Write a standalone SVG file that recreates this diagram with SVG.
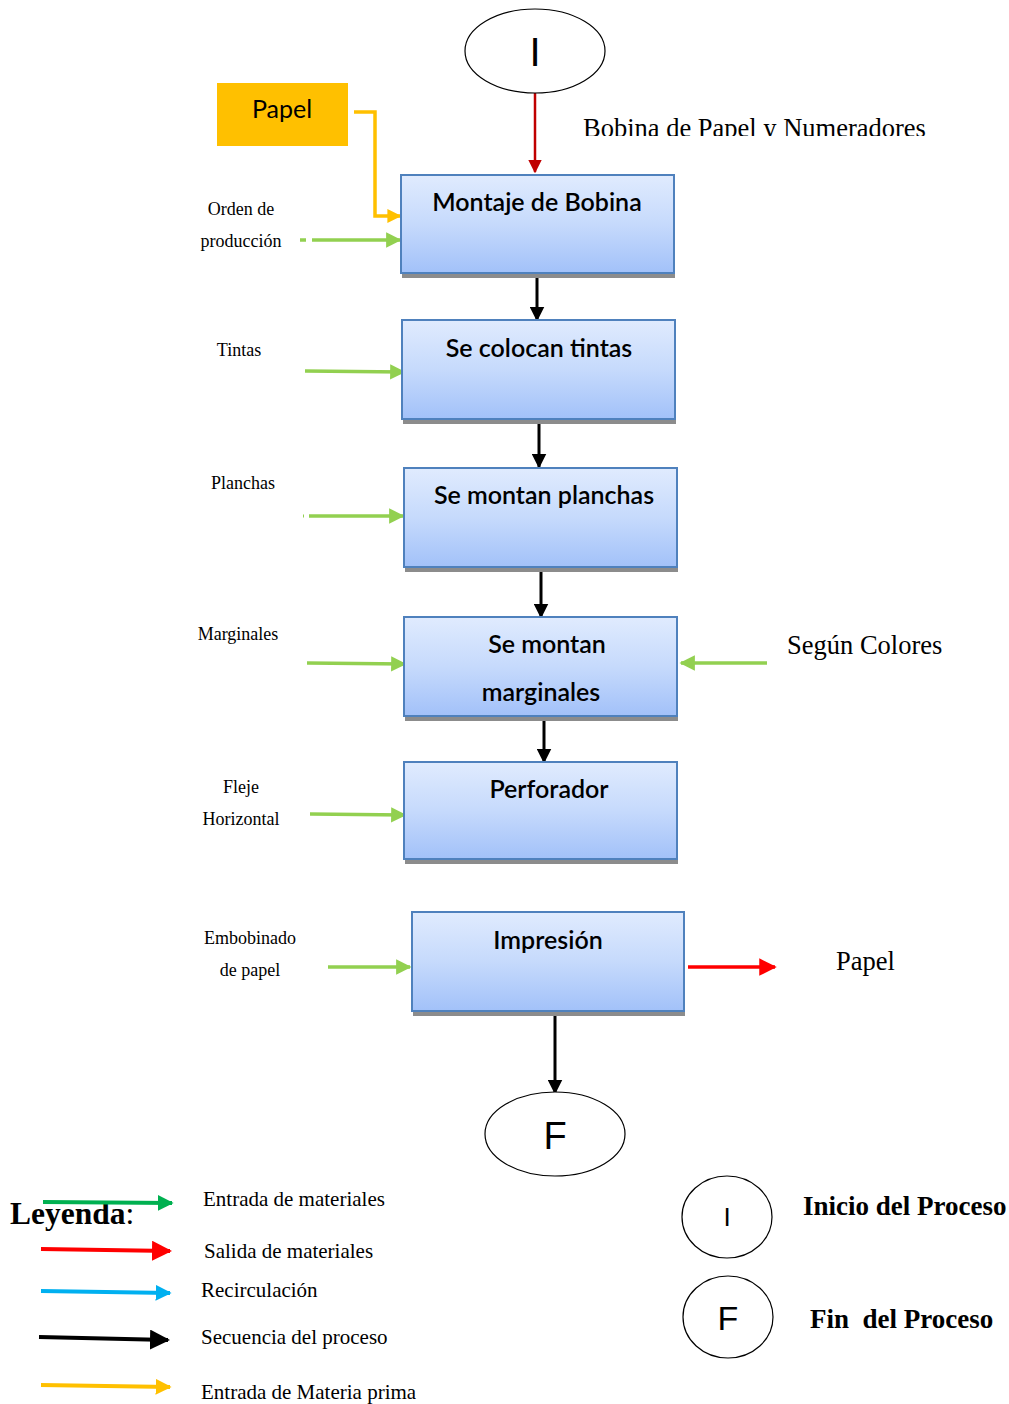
<svg xmlns="http://www.w3.org/2000/svg" width="1009" height="1404" viewBox="0 0 1009 1404">
  <defs>
    <linearGradient id="boxFill" x1="0" y1="0" x2="0" y2="1">
      <stop offset="0" stop-color="#E0EBFE"/>
      <stop offset="0.5" stop-color="#C6DAFC"/>
      <stop offset="1" stop-color="#A2C1F9"/>
    </linearGradient>
    <marker id="hBlack" viewBox="0 0 10 10" refX="9" refY="5" markerWidth="5" markerHeight="5" markerUnits="strokeWidth" orient="auto">
      <path d="M0,0 L10,5 L0,10 Z" fill="#000"/>
    </marker>
    <marker id="hRed" viewBox="0 0 10 10" refX="9" refY="5" markerWidth="5" markerHeight="5" markerUnits="strokeWidth" orient="auto">
      <path d="M0,0 L10,5 L0,10 Z" fill="#FF0000"/>
    </marker>
    <marker id="hDarkRed" viewBox="0 0 10 10" refX="9" refY="5" markerWidth="5.5" markerHeight="5.5" markerUnits="strokeWidth" orient="auto">
      <path d="M0,0 L10,5 L0,10 Z" fill="#C00000"/>
    </marker>
    <marker id="hGreen" viewBox="0 0 10 10" refX="9" refY="5" markerWidth="4.4" markerHeight="4.4" markerUnits="strokeWidth" orient="auto">
      <path d="M0,0 L10,5 L0,10 Z" fill="#92D050"/>
    </marker>
    <marker id="hGreen2" viewBox="0 0 10 10" refX="9" refY="5" markerWidth="4" markerHeight="4" markerUnits="strokeWidth" orient="auto">
      <path d="M0,0 L10,5 L0,10 Z" fill="#00B050"/>
    </marker>
    <marker id="hBlue" viewBox="0 0 10 10" refX="9" refY="5" markerWidth="4" markerHeight="4" markerUnits="strokeWidth" orient="auto">
      <path d="M0,0 L10,5 L0,10 Z" fill="#00B0F0"/>
    </marker>
    <marker id="hYellow" viewBox="0 0 10 10" refX="9" refY="5" markerWidth="4" markerHeight="4" markerUnits="strokeWidth" orient="auto">
      <path d="M0,0 L10,5 L0,10 Z" fill="#FFC000"/>
    </marker>
    <clipPath id="clipBobina">
      <rect x="560" y="100" width="420" height="36"/>
    </clipPath>
  </defs>
  <style>
    .box { fill: url(#boxFill); stroke: #4F81BD; stroke-width: 2; }
    .shadow { fill: #8C8C8C; }
    .btxt { font-family: Lato, "Open Sans", sans-serif; font-size: 25px; font-weight: 600; fill: #000; text-anchor: middle; }
    .lbl { font-family: "Liberation Serif", serif; font-size: 18px; fill: #000; text-anchor: middle; }
    .big { font-family: "Liberation Serif", serif; font-size: 26.5px; fill: #000; }
    .leg { font-family: "Liberation Serif", serif; font-size: 21px; fill: #000; }
    .legb { font-family: "Liberation Serif", serif; font-size: 27px; font-weight: bold; fill: #000; }
    .term { fill: #fff; stroke: #000; stroke-width: 1.2; }
    .ttxt { font-family: "Liberation Sans", sans-serif; font-weight: 300; fill: #000; text-anchor: middle; }
    .seq { stroke: #000; stroke-width: 3; fill: none; marker-end: url(#hBlack); }
    .inp { stroke: #92D050; stroke-width: 3.5; fill: none; marker-end: url(#hGreen); }
  </style>

  <!-- connectors -->
  <g id="connectors">
    <line x1="535" y1="93" x2="535" y2="172" stroke="#C00000" stroke-width="2.5" marker-end="url(#hDarkRed)"/>
    <polyline points="354,112 375,112 375,216 400,216" stroke="#FFC000" stroke-width="3.5" fill="none" marker-end="url(#hYellow)"/>
    <line x1="300" y1="240" x2="306" y2="240" stroke="#92D050" stroke-width="3.5"/>
    <line x1="312" y1="240" x2="400" y2="240" class="inp"/>
    <line x1="537" y1="274" x2="537" y2="320" class="seq"/>
    <line x1="305" y1="371" x2="404" y2="372" class="inp"/>
    <line x1="539" y1="421" x2="539" y2="467" class="seq"/>
    <line x1="303" y1="516" x2="304" y2="516" stroke="#92D050" stroke-width="3"/>
    <line x1="309" y1="516" x2="403" y2="516" class="inp"/>
    <line x1="541" y1="570" x2="541" y2="617" class="seq"/>
    <line x1="307" y1="663" x2="405" y2="664" class="inp"/>
    <line x1="767" y1="663" x2="681" y2="663" class="inp"/>
    <line x1="544" y1="714" x2="544" y2="762" class="seq"/>
    <line x1="310" y1="814" x2="405" y2="815" class="inp"/>
    <line x1="328" y1="967" x2="410" y2="967" class="inp"/>
    <line x1="688" y1="967" x2="775" y2="967" stroke="#FF0000" stroke-width="3.5" marker-end="url(#hRed)"/>
    <line x1="555" y1="1012" x2="555" y2="1093" class="seq"/>
  </g>

  <!-- start terminal -->
  <g id="inicio">
    <ellipse cx="535" cy="51" rx="70" ry="42" class="term"/>
    <text x="535" y="66" class="ttxt" font-size="40">I</text>
  </g>

  <g id="bobina-label">
    <text x="583" y="137" class="big" clip-path="url(#clipBobina)">Bobina de Papel y Numeradores</text>
  </g>

  <g id="papel-materia">
    <rect x="217" y="83" width="131" height="63" fill="#FFC000"/>
    <text x="282" y="118" font-family="Lato, 'Open Sans', sans-serif" font-size="25" text-anchor="middle" fill="#000">Papel</text>
  </g>

  <g id="orden-label">
    <text x="241" y="215" class="lbl">Orden de</text>
    <text x="241" y="247" class="lbl">producción</text>
  </g>

  <g id="montaje">
    <rect x="402" y="273" width="273" height="5" class="shadow"/>
    <rect x="401" y="175" width="273" height="98" class="box"/>
    <text x="537" y="211" class="btxt">Montaje de Bobina</text>
  </g>

  <g id="tintas-label"><text x="239" y="356" class="lbl">Tintas</text></g>
  <g id="tintas">
    <rect x="403" y="419" width="273" height="5" class="shadow"/>
    <rect x="402" y="320" width="273" height="99" class="box"/>
    <text x="539" y="357" class="btxt">Se colocan tintas</text>
  </g>

  <g id="planchas-label"><text x="243" y="489" class="lbl">Planchas</text></g>
  <g id="planchas">
    <rect x="405" y="567" width="273" height="5" class="shadow"/>
    <rect x="404" y="468" width="273" height="99" class="box"/>
    <text x="544" y="504" class="btxt">Se montan planchas</text>
  </g>

  <g id="marginales-label"><text x="238" y="640" class="lbl">Marginales</text></g>
  <g id="marginales">
    <rect x="405" y="716" width="273" height="5" class="shadow"/>
    <rect x="404" y="617" width="273" height="99" class="box"/>
    <text x="547" y="653" class="btxt">Se montan</text>
    <text x="541" y="701" class="btxt">marginales</text>
  </g>
  <g id="colores-label"><text x="787" y="654" class="big">Según Colores</text></g>

  <g id="fleje-label">
    <text x="241" y="793" class="lbl">Fleje</text>
    <text x="241" y="825" class="lbl">Horizontal</text>
  </g>
  <g id="perforador">
    <rect x="405" y="859" width="273" height="5" class="shadow"/>
    <rect x="404" y="762" width="273" height="97" class="box"/>
    <text x="549" y="798" class="btxt">Perforador</text>
  </g>

  <g id="embobinado-label">
    <text x="250" y="944" class="lbl">Embobinado</text>
    <text x="250" y="976" class="lbl">de papel</text>
  </g>
  <g id="impresion">
    <rect x="413" y="1011" width="272" height="5" class="shadow"/>
    <rect x="412" y="912" width="272" height="99" class="box"/>
    <text x="548" y="949" class="btxt">Impresión</text>
  </g>
  <g id="papel-salida"><text x="836" y="970" class="big">Papel</text></g>

  <!-- end terminal -->
  <g id="fin">
    <ellipse cx="555" cy="1134" rx="70" ry="42" class="term"/>
    <text x="555" y="1149" class="ttxt" font-size="38">F</text>
  </g>

  <!-- legend -->
  <g id="leyenda">
    <text x="10" y="1224" font-family="'Liberation Serif', serif" font-size="31.5" font-weight="bold" fill="#000">Leyenda<tspan font-weight="normal">:</tspan></text>
    <line x1="43" y1="1202" x2="172" y2="1203" stroke="#00B050" stroke-width="4" marker-end="url(#hGreen2)"/>
    <text x="203" y="1206" class="leg">Entrada de materiales</text>
    <line x1="41" y1="1249" x2="170" y2="1251" stroke="#FF0000" stroke-width="4" marker-end="url(#hRed)"/>
    <text x="204" y="1258" class="leg">Salida de materiales</text>
    <line x1="41" y1="1291" x2="170" y2="1293" stroke="#00B0F0" stroke-width="4" marker-end="url(#hBlue)"/>
    <text x="201" y="1297" class="leg">Recirculación</text>
    <line x1="39" y1="1337" x2="168" y2="1340" stroke="#000" stroke-width="4" marker-end="url(#hBlack)"/>
    <text x="201" y="1344" class="leg">Secuencia del proceso</text>
    <line x1="41" y1="1385" x2="170" y2="1387" stroke="#FFC000" stroke-width="4" marker-end="url(#hYellow)"/>
    <text x="201" y="1399" class="leg">Entrada de Materia prima</text>

    <ellipse cx="727" cy="1217" rx="45" ry="41" class="term"/>
    <text x="727" y="1226" class="ttxt" font-size="26">I</text>
    <text x="803" y="1215" class="legb">Inicio del Proceso</text>

    <ellipse cx="728" cy="1317" rx="45" ry="41" class="term"/>
    <text x="728" y="1330" class="ttxt" font-size="34">F</text>
    <text x="810" y="1328" class="legb" xml:space="preserve">Fin  del Proceso</text>
  </g>
</svg>
